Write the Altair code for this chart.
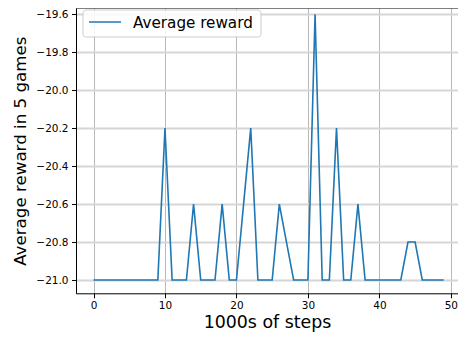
import altair as alt
import pandas as pd

steps = list(range(50))
rewards = [
    -21.0, -21.0, -21.0, -21.0, -21.0, -21.0, -21.0, -21.0, -21.0, -21.0,
    -20.2, -21.0, -21.0, -21.0, -20.6, -21.0, -21.0, -21.0, -20.6, -21.0,
    -21.0, -20.6, -20.2, -21.0, -21.0, -21.0, -20.6, -20.8, -21.0, -21.0,
    -21.0, -19.6, -21.0, -21.0, -20.2, -21.0, -21.0, -20.6, -21.0, -21.0,
    -21.0, -21.0, -21.0, -21.0, -20.8, -20.8, -21.0, -21.0, -21.0, -21.0,
]
series_name = "Average reward"
x_ticks = [0, 10, 20, 30, 40, 50]
y_ticks = [-21.0, -20.8, -20.6, -20.4, -20.2, -20.0, -19.8, -19.6]

df = pd.DataFrame({"step": steps, "reward": rewards})
legend_df = pd.DataFrame({"label": [series_name]})

W, H = 382, 285.3
FONT = "DejaVu Sans"
BLUE = "#1f77b4"

line = alt.Chart(df).mark_line(strokeWidth=1.6, color=BLUE, clip=True).encode(
    x=alt.X(
        "step:Q",
        scale=alt.Scale(domain=[-2.45, 51.0], nice=False, zero=False),
        axis=alt.Axis(
            values=x_ticks, title="1000s of steps", format="d",
            gridColor="#b8b8b8", gridWidth=1, gridOpacity=1,
            tickSize=4.5, labelPadding=3, titlePadding=2, titleFontSize=17.4,
        ),
    ),
    y=alt.Y(
        "reward:Q",
        scale=alt.Scale(domain=[-21.07, -19.567], nice=False, zero=False),
        axis=alt.Axis(
            values=y_ticks, title="Average reward in 5 games", format=".1f",
            gridColor="#d6d6d6", gridWidth=2, gridOpacity=1,
            tickSize=4.5, labelPadding=3.5, titlePadding=6, titleFontSize=16.7,
        ),
    ),
)

top_rule = alt.Chart(legend_df).mark_rule(color="black", strokeWidth=1).encode(
    x=alt.value(0), x2=alt.value(W), y=alt.value(0)
)

legend_box = alt.Chart(legend_df).mark_rect(
    fill="white", fillOpacity=0.85, stroke="#cccccc", strokeWidth=1, cornerRadius=3
).encode(x=alt.value(7), x2=alt.value(185), y=alt.value(2), y2=alt.value(29))

legend_line = alt.Chart(legend_df).mark_rule(color=BLUE, strokeWidth=1.6).encode(
    x=alt.value(13), x2=alt.value(45), y=alt.value(14)
)

legend_text = alt.Chart(legend_df).mark_text(
    align="left", baseline="middle", font=FONT, fontSize=15.2, color="black"
).encode(x=alt.value(57), y=alt.value(15), text="label:N")

chart = (
    alt.layer(line, top_rule, legend_box, legend_line, legend_text)
    .properties(
        width=W, height=H,
        padding={"left": 68, "top": 0, "right": 0, "bottom": 42},
        autosize=alt.AutoSizeParams(type="none"),
    )
    .configure_view(stroke=None)
    .configure_axis(
        labelFont=FONT, titleFont=FONT, labelFontSize=10.5,
        labelColor="#000000", titleColor="#000000", titleFontWeight="normal",
        domainColor="#000000", tickColor="#000000", domainWidth=1, tickWidth=1,
    )
)

chart.save("out.html", embed_options={"renderer": "svg", "actions": False})
